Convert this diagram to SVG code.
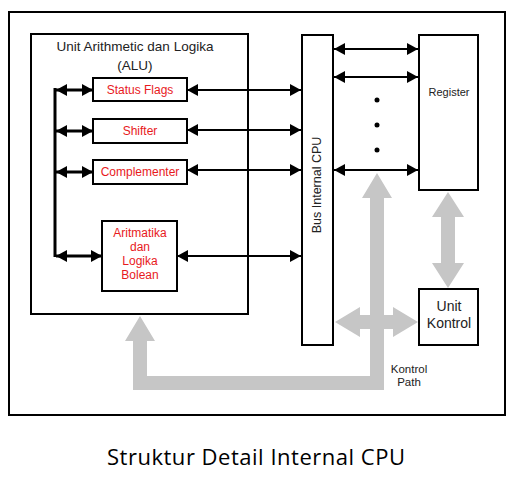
<svg xmlns="http://www.w3.org/2000/svg" width="526" height="479" viewBox="0 0 526 479">
<defs>
<marker id="ah" viewBox="0 0 10 10" refX="10" refY="5" markerWidth="11" markerHeight="12" markerUnits="userSpaceOnUse" orient="auto-start-reverse" preserveAspectRatio="none"><path d="M0,0 L10,5 L0,10 Z" fill="#000"/></marker>
<style>
.box{fill:#fff;stroke:#000;stroke-width:2}
.ln{stroke:#000;stroke-width:2;fill:none}
.ln3{stroke:#000;stroke-width:3;fill:none}
.dbl{marker-start:url(#ah);marker-end:url(#ah)}
.gray{fill:#c6c6c6}
.t{font-family:"Liberation Sans",Arial,sans-serif;fill:#222}
.r{font-family:"Liberation Sans",Arial,sans-serif;fill:#e8191c;font-size:12px;text-anchor:middle}
</style>
</defs>
<rect width="526" height="479" fill="#fff"/>
<g id="outer"><rect x="9" y="12" width="496" height="403" fill="#fff" stroke="#000" stroke-width="2"/></g>
<g id="alu"><rect class="box" x="31" y="34" width="217" height="280"/>
<text class="t" x="135" y="51" font-size="13.5" text-anchor="middle">Unit Arithmetic dan Logika</text>
<text class="t" x="135" y="70" font-size="13.5" text-anchor="middle">(ALU)</text></g>
<g id="connectors">
<line class="ln3" x1="55" y1="88" x2="55" y2="257"/>
<line class="ln3 dbl" x1="56" y1="90" x2="93" y2="90"/>
<line class="ln3 dbl" x1="56" y1="131" x2="93" y2="131"/>
<line class="ln3 dbl" x1="56" y1="172" x2="93" y2="172"/>
<line class="ln3 dbl" x1="56" y1="256" x2="102" y2="256"/>
<line class="ln dbl" x1="187" y1="90" x2="301" y2="90"/>
<line class="ln dbl" x1="187" y1="130" x2="301" y2="130"/>
<line class="ln dbl" x1="187" y1="170" x2="301" y2="170"/>
<line class="ln dbl" x1="177" y1="256" x2="301" y2="256"/>
<line class="ln dbl" x1="334" y1="49" x2="418" y2="49"/>
<line class="ln dbl" x1="334" y1="77" x2="418" y2="77"/>
<line class="ln dbl" x1="334" y1="170" x2="418" y2="170"/>
<circle cx="377" cy="100" r="2.5" fill="#000"/>
<circle cx="377" cy="125" r="2.5" fill="#000"/>
<circle cx="377" cy="150" r="2.5" fill="#000"/>
<polygon class="gray" points="140,316 155,341 147,341 147,376 370,376 370,198 362,198 377,173 392,198 384,198 384,390 133,390 133,341 125,341"/>
<polygon class="gray" points="335,322 360,307 360,315 393,315 393,307 418,322 393,337 393,329 360,329 360,337"/>
<polygon class="gray" points="448,192 464,217 455,217 455,263 464,263 448,288 432,263 441,263 441,217 432,217"/>
</g>
<g id="status-flags"><rect class="box" x="93" y="78" width="94" height="23"/><text class="r" x="140" y="94">Status Flags</text></g>
<g id="shifter"><rect class="box" x="93" y="119" width="94" height="24"/><text class="r" x="140" y="135">Shifter</text></g>
<g id="complementer"><rect class="box" x="93" y="160" width="94" height="24"/><text class="r" x="140" y="176">Complementer</text></g>
<g id="aritmatika"><rect class="box" x="102" y="221" width="75" height="70"/>
<text class="r" x="140" y="237">Aritmatika</text>
<text class="r" x="140" y="251">dan</text>
<text class="r" x="140" y="265">Logika</text>
<text class="r" x="140" y="279">Bolean</text></g>
<g id="bus"><rect class="box" x="302" y="35" width="31" height="310"/>
<text class="t" font-size="12.5" text-anchor="middle" transform="translate(321,185) rotate(-90)">Bus Internal CPU</text></g>
<g id="register"><rect class="box" x="419" y="35" width="59" height="155"/>
<text class="t" x="449" y="96" font-size="11" text-anchor="middle">Register</text></g>
<g id="unit-kontrol"><rect class="box" x="419" y="289" width="59" height="56"/>
<text class="t" x="449" y="311" font-size="14" text-anchor="middle">Unit</text>
<text class="t" x="449" y="328" font-size="14" text-anchor="middle">Kontrol</text></g>
<g id="kontrol-path"><text class="t" x="409" y="373" font-size="11.5" text-anchor="middle">Kontrol</text>
<text class="t" x="409" y="386" font-size="11.5" text-anchor="middle">Path</text></g>
<g id="title"><text x="256" y="465" font-family="'Open Sans','Noto Sans',sans-serif" font-size="22" fill="#000" text-anchor="middle" textLength="298">Struktur Detail Internal CPU</text></g>
</svg>
